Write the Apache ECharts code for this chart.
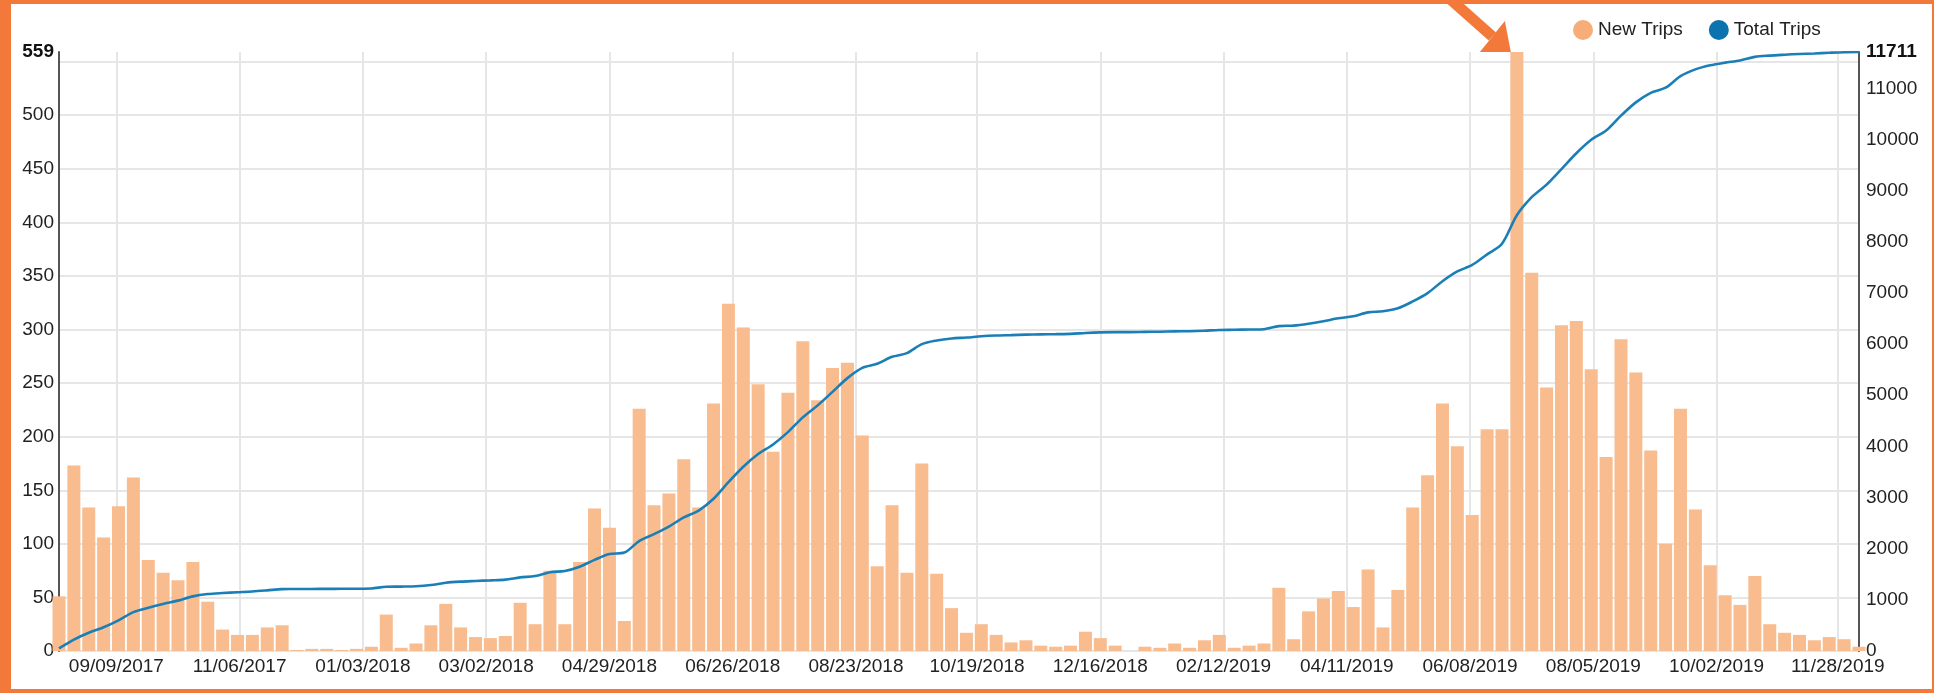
<!DOCTYPE html>
<html><head><meta charset="utf-8">
<script src="https://cdn.jsdelivr.net/npm/echarts@6/dist/echarts.min.js"></script>
<style>html,body{margin:0;padding:0;background:#fff}#c{width:1934px;height:693px}</style>
</head><body><div id="c"></div>
<script>
// first weekly bucket (each bar = one week)
const START_DATE = '08/13/2017';

// weekly new trips
const newTrips = [
  51,173,134,106,135,162,85,73,66,83,
  46,20,15,15,22,24,1,2,2,1,
  2,4,34,3,7,24,44,22,13,12,
  14,45,25,75,25,83,133,115,28,226,
  136,147,179,134,231,324,302,249,186,241,
  289,234,264,269,201,79,136,73,175,72,
  40,17,25,15,8,10,5,4,5,18,
  12,5,0,4,3,7,3,10,15,3,
  5,7,59,11,37,49,56,41,76,22,
  57,134,164,231,191,127,207,207,559,353,
  246,304,308,263,181,291,260,187,100,226,
  132,80,52,43,70,25,17,15,10,13,
  11,4
];

// running total of trips
const totalTrips = [
  51,224,358,464,599,761,846,919,985,1068,
  1114,1134,1149,1164,1186,1210,1211,1213,1215,1216,
  1218,1222,1256,1259,1266,1290,1334,1356,1369,1381,
  1395,1440,1465,1540,1565,1648,1781,1896,1924,2150,
  2286,2433,2612,2746,2977,3301,3603,3852,4038,4279,
  4568,4802,5066,5335,5536,5615,5751,5824,5999,6071,
  6111,6128,6153,6168,6176,6186,6191,6195,6200,6218,
  6230,6235,6235,6239,6242,6249,6252,6262,6277,6280,
  6285,6292,6351,6362,6399,6448,6504,6545,6621,6643,
  6700,6834,6998,7229,7420,7547,7754,7961,8520,8873,
  9119,9423,9731,9994,10175,10466,10726,10913,11013,11239,
  11371,11451,11503,11546,11616,11641,11658,11673,11683,11696,
  11707,11711
];

// x-axis tick labels
const tickLabels = ['09/09/2017','11/06/2017','01/03/2018','03/02/2018','04/29/2018',
  '06/26/2018','08/23/2018','10/19/2018','12/16/2018','02/12/2019','04/11/2019',
  '06/08/2019','08/05/2019','10/02/2019','11/28/2019'];

const leftMax = 559;
const rightMax = 11711;
const seriesNames = ['New Trips', 'Total Trips'];

const FONT = "'Liberation Sans', Arial, Helvetica, sans-serif";
const DAY = 86400000;
function parseMDY(s){ const p = s.split('/').map(Number); return Date.UTC(p[2], p[0]-1, p[1]); }
const t0 = parseMDY(START_DATE);
const weekDays = newTrips.map((_, i) => i * 7);          // day offset of each week
const tickDays = tickLabels.map(s => (parseMDY(s) - t0) / DAY);

const ORANGE = '#F3793A';
const chart = echarts.init(document.getElementById('c'), null, {renderer: 'canvas'});

const option = {
  animation: false,
  backgroundColor: '#fff',
  grid: {left: 59, right: 75, top: 52, bottom: 42, containLabel: false, outerBoundsMode: 'none'},
  legend: {
    data: [
      {name: seriesNames[0], itemStyle: {color: '#F6AD78'}},
      {name: seriesNames[1], itemStyle: {color: '#0B74AE'}}
    ],
    icon: 'circle', itemWidth: 20, itemHeight: 20, itemGap: 26,
    left: 1568, top: 15,
    textStyle: {fontSize: 19, color: '#222', fontFamily: FONT}
  },
  xAxis: {
    type: 'value', min: 0, max: weekDays[weekDays.length - 1],
    axisLine: {show: false},
    axisTick: {show: false, customValues: tickDays},
    axisLabel: {
      customValues: tickDays, margin: 6,
      formatter: v => { const i = tickDays.indexOf(v); return i >= 0 ? tickLabels[i] : ''; },
      fontSize: 19, color: '#222', fontFamily: FONT
    },
    splitLine: {show: true, lineStyle: {color: '#e6e6e6', width: 2}}
  },
  yAxis: [
    {
      type: 'value', min: 0, max: leftMax, interval: 50, position: 'left',
      axisLine: {show: true, lineStyle: {color: '#555', width: 2}},
      axisTick: {show: false},
      axisLabel: {
        margin: 5, fontSize: 19, color: '#222', fontFamily: FONT,
        formatter: v => v === leftMax ? '{b|' + v + '}' : (v > 500 ? '' : String(v)),
        rich: {b: {fontWeight: 'bold', fontSize: 19, color: '#111', fontFamily: FONT}}
      },
      splitLine: {show: true, showMaxLine: false, lineStyle: {color: '#e6e6e6', width: 2}}
    },
    {
      type: 'value', min: 0, max: rightMax, interval: 1000, position: 'right',
      axisLine: {show: true, lineStyle: {color: '#555', width: 2}},
      axisTick: {show: false},
      axisLabel: {
        margin: 7, fontSize: 19, color: '#222', fontFamily: FONT,
        formatter: v => v === rightMax ? '{b|' + v + '}' : (v > 11000 ? '' : String(v)),
        rich: {b: {fontWeight: 'bold', fontSize: 19, color: '#111', fontFamily: FONT}}
      },
      splitLine: {show: false}
    }
  ],
  series: [
    {
      name: seriesNames[0], type: 'bar', yAxisIndex: 0, barWidth: 13,
      data: weekDays.map((d, i) => [d, newTrips[i]]),
      itemStyle: {color: '#F8BC8F'}, clip: true, z: 2
    },
    {
      name: seriesNames[1], type: 'line', yAxisIndex: 1,
      data: weekDays.map((d, i) => [d, totalTrips[i]]),
      symbol: 'none', showSymbol: false, smooth: 0.3,
      lineStyle: {color: '#1B7FB7', width: 2.6}, itemStyle: {color: '#1B7FB7'}, z: 3
    }
  ]
};
chart.setOption(option);

// annotation arrow pointing at the peak week, plus the orange frame
const peak = newTrips.indexOf(Math.max.apply(null, newTrips));
const tipPx = chart.convertToPixel({xAxisIndex: 0, yAxisIndex: 0}, [weekDays[peak], newTrips[peak]]);
const tx = tipPx[0] - 6, ty = tipPx[1];
chart.setOption({
  graphic: [
    {type: 'rect', shape: {x: 0, y: 0, width: 11, height: 693}, style: {fill: ORANGE}, z: 100},
    {type: 'rect', shape: {x: 0, y: 0, width: 1934, height: 4}, style: {fill: ORANGE}, z: 100},
    {type: 'rect', shape: {x: 0, y: 689, width: 1934, height: 4}, style: {fill: ORANGE}, z: 100},
    {type: 'rect', shape: {x: 1932, y: 0, width: 2, height: 693}, style: {fill: ORANGE}, z: 100},
    {type: 'line', shape: {x1: tx - 18.5, y1: ty - 15.5, x2: tx - 62, y2: ty - 54},
      style: {stroke: ORANGE, lineWidth: 11}, z: 100},
    {type: 'polygon', shape: {points: [[tx, ty], [tx - 31, ty], [tx - 6, ty - 31]]},
      style: {fill: ORANGE}, z: 100}
  ]
});
</script>
</body></html>
